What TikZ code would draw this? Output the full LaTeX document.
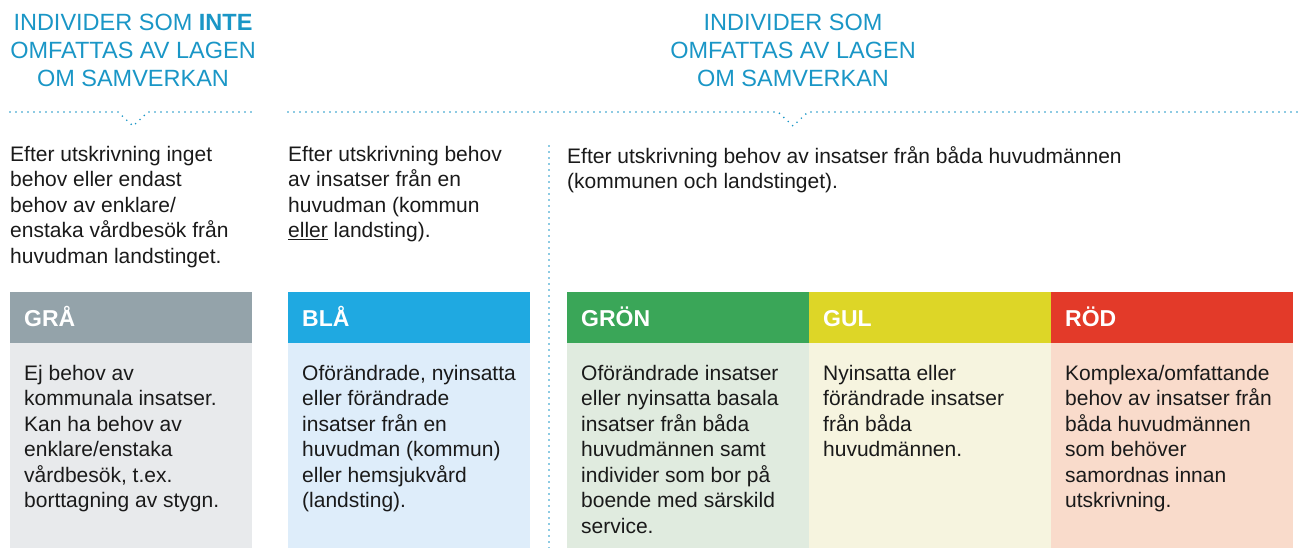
\documentclass[tikz,border=0pt]{standalone}
\usepackage{fontspec}
\setmainfont{Liberation Sans}
\definecolor{titleblue}{HTML}{1A96C6}
\definecolor{txt}{HTML}{1A1A1A}
\definecolor{grayH}{HTML}{94A3AA}\definecolor{grayB}{HTML}{E8EAEC}
\definecolor{blueH}{HTML}{1FA9E1}\definecolor{blueB}{HTML}{DEEDFA}
\definecolor{greenH}{HTML}{3AA658}\definecolor{greenB}{HTML}{E0EBDF}
\definecolor{yellowH}{HTML}{DDD627}\definecolor{yellowB}{HTML}{F6F4DF}
\definecolor{redH}{HTML}{E33A29}\definecolor{redB}{HTML}{F9DBCB}
\tikzset{
  dotline/.style={titleblue, line width=1.8pt, line cap=round, dash pattern=on 0pt off 6pt},
  titletext/.style={titleblue, font=\fontsize{23.5}{28}\selectfont, align=center, inner sep=0pt, anchor=north},
  bodytext/.style={txt, font=\fontsize{21}{25.5}\selectfont, align=left, inner sep=0pt, anchor=north west},
  headtext/.style={white, font=\fontsize{23}{27}\selectfont\bfseries, inner sep=0pt, anchor=base west},
}
\begin{document}
\begin{tikzpicture}[x=1pt,y=-1pt]
\useasboundingbox (0,0) rectangle (1299,548);
% titles
\node[titletext] (t1) at (133,14) {INDIVIDER SOM \textbf{INTE}\\OMFATTAS AV LAGEN\\OM SAMVERKAN};
\node[titletext] (t2) at (793,14) {INDIVIDER SOM\\OMFATTAS AV LAGEN\\OM SAMVERKAN};
% dotted brackets
\coordinate (l1) at (10,112); \coordinate (l2) at (118,112); \coordinate (l3) at (133,126);
\coordinate (l4) at (148,112); \coordinate (l5) at (253,112);
\draw[dotline] (l1) -- (l2) -- (l3) -- (l4) -- (l5);
\coordinate (r1) at (288,112); \coordinate (r2) at (778,112); \coordinate (r3) at (793,126);
\coordinate (r4) at (808,112); \coordinate (r5) at (1298,112);
\draw[dotline] (r1) -- (r2) -- (r3) -- (r4) -- (r5);
\coordinate (v1) at (549,146); \coordinate (v2) at (549,548);
\draw[dotline] (v1) -- (v2);
% intro texts
\node[bodytext] (i1) at (10,146) {Efter utskrivning inget\\behov eller endast\\behov av enklare/\\enstaka vårdbesök från\\huvudman landstinget.};
\node[bodytext] (i2) at (288,146) {Efter utskrivning behov\\av insatser från en\\huvudman (kommun\\\underline{eller} landsting).};
\node[bodytext] (i3) at (567,146) {Efter utskrivning behov av insatser från båda huvudmännen\\(kommunen och landstinget).};
% boxes
\foreach \x/\c/\n in {10/gray/a, 288/blue/b, 567/green/c, 809/yellow/d, 1051/red/e}{
  \fill[\c H] (\x,292) rectangle ++(242,51);
  \fill[\c B] (\x,343) rectangle ++(242,205);
}
\node[headtext] (ha) at (24,326) {GRÅ};
\node[headtext] (hb) at (302,326) {BLÅ};
\node[headtext] (hc) at (581,326) {GRÖN};
\node[headtext] (hd) at (823,326) {GUL};
\node[headtext] (he) at (1065,326) {RÖD};
\node[bodytext] (ba) at (24,365) {Ej behov av\\kommunala insatser.\\Kan ha behov av\\enklare/enstaka\\vårdbesök, t.ex.\\borttagning av stygn.};
\node[bodytext] (bb) at (302,365) {Oförändrade, nyinsatta\\eller förändrade\\insatser från en\\huvudman (kommun)\\eller hemsjukvård\\(landsting).};
\node[bodytext] (bc) at (581,365) {Oförändrade insatser\\eller nyinsatta basala\\insatser från båda\\huvudmännen samt\\individer som bor på\\boende med särskild\\service.};
\node[bodytext] (bd) at (823,365) {Nyinsatta eller\\förändrade insatser\\från båda\\huvudmännen.};
\node[bodytext] (be) at (1065,365) {Komplexa/omfattande\\behov av insatser från\\båda huvudmännen\\som behöver\\samordnas innan\\utskrivning.};
\end{tikzpicture}
\end{document}
